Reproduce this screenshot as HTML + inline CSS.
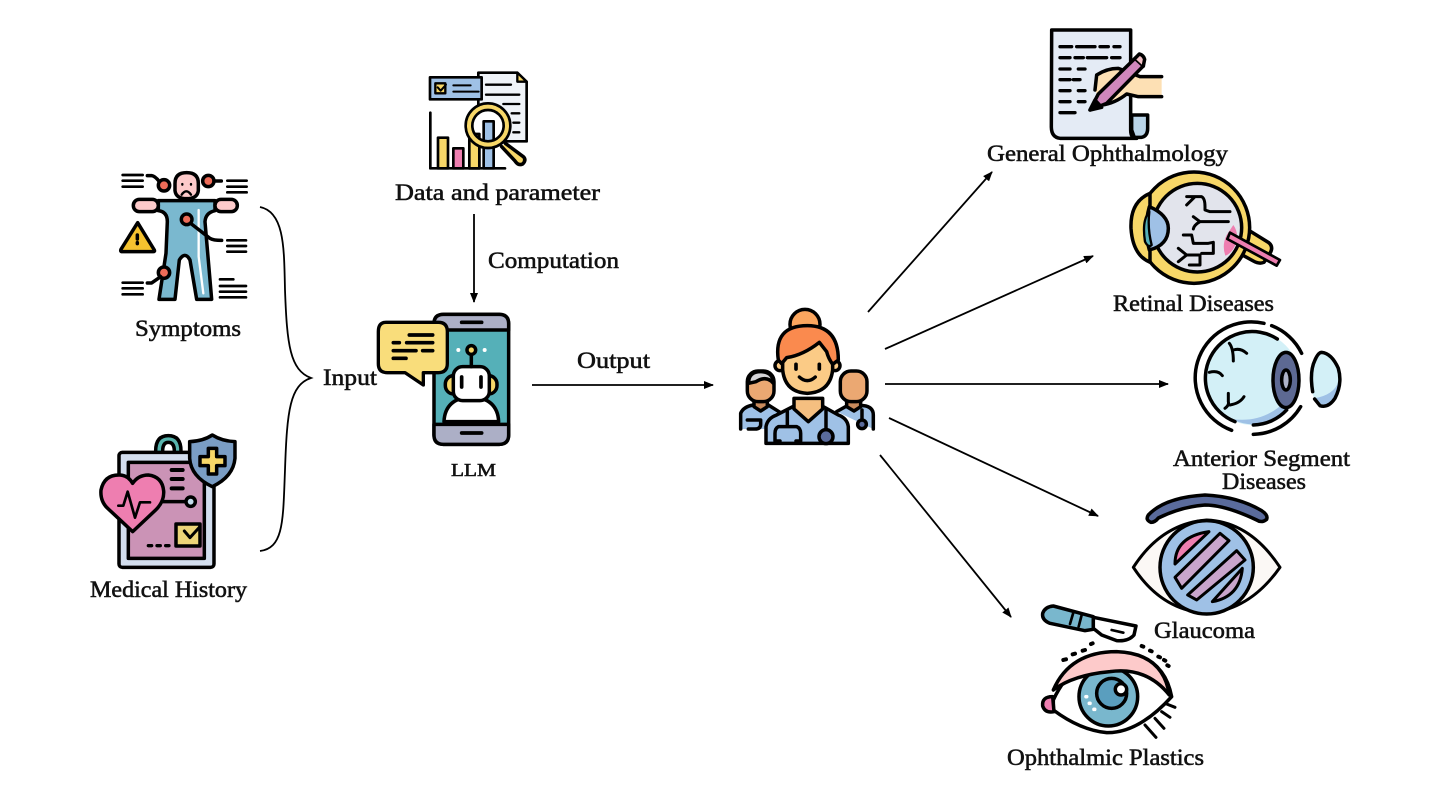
<!DOCTYPE html>
<html><head><meta charset="utf-8"><title>LLM diagram</title>
<style>
html,body{margin:0;padding:0;background:#fff}
svg{display:block}
text{font-family:"Liberation Serif",serif;font-size:23px;fill:#111;stroke:#111;stroke-width:.55}
.i *{stroke-linecap:round;stroke-linejoin:round}
.i{stroke:#000;stroke-width:10.5;fill:none}
.a{stroke:#000;stroke-width:1.8;fill:none}
</style></head><body>
<svg width="1440" height="810" viewBox="0 0 1440 810" xmlns="http://www.w3.org/2000/svg">
<defs><marker id="h" markerWidth="10" markerHeight="8" refX="9" refY="4" orient="auto" markerUnits="userSpaceOnUse"><path d="M0,0 L10,4 L0,8 Z" fill="#000"/></marker></defs>
<rect width="1440" height="810" fill="#fff"/>

<!-- connectors -->
<path class="a" d="M260,207 C285,212 284,250 285,290 C287,345 290,370 311,378 C290,385 287,410 285,470 C283,520 284,548 260,551"/>
<g class="a">
<line x1="474" y1="214" x2="474" y2="302" marker-end="url(#h)"/>
<line x1="532" y1="385" x2="713" y2="385" marker-end="url(#h)"/>
<line x1="868" y1="312" x2="992" y2="172" marker-end="url(#h)"/>
<line x1="885" y1="349" x2="1093" y2="256" marker-end="url(#h)"/>
<line x1="885" y1="384" x2="1168" y2="384" marker-end="url(#h)"/>
<line x1="889" y1="418" x2="1098" y2="516" marker-end="url(#h)"/>
<line x1="880" y1="455" x2="1011" y2="617" marker-end="url(#h)"/>
</g>

<!-- Symptoms -->
<g class="i" transform="translate(90,160) scale(.3333)">
<path d="M98,45H158M98,62H158M98,80H158M412,62H470M412,80H470M412,97H470M412,241H468M412,258H468M412,275H468M98,368H158M98,385H158M98,403H158M390,358H430M390,378H468M390,395H468M390,412H468" stroke-width="8"/>
<path d="M205,122H375V152Q347,158 345,185L365,418H320L300,300Q285,272 268,300L255,418H207L228,280L232,185Q232,155 205,152Z" fill="#7ab8cf"/>
<path d="M326,150V290L340,400" stroke="#fff" stroke-width="7" fill="none"/>
<rect x="130" y="118" width="75" height="37" rx="18" fill="#fdcaca"/>
<rect x="375" y="118" width="67" height="37" rx="18" fill="#fdcaca"/>
<path d="M255,70Q255,38 290,38Q325,38 325,70V92Q322,116 290,116Q258,116 255,92Z" fill="#fdcaca"/>
<path d="M275,104Q289,84 303,104M277,72V74M303,72V74" stroke-width="7"/>
<circle cx="222" cy="76" r="17" fill="#ee6c58"/><path d="M172,47H185Q195,48 208,65"/>
<circle cx="355" cy="63" r="17" fill="#ee6c58"/><path d="M372,63H394"/>
<circle cx="290" cy="178" r="16" fill="#ee6c58"/><path d="M302,190L360,235Q370,241 395,241"/>
<circle cx="222" cy="338" r="17" fill="#ee6c58"/><path d="M172,369H185L212,350"/>
<path d="M143,188L193,270Q195,275 190,275H97Q90,275 93,268Z" fill="#f5c22f"/>
<path d="M142,225V237M142,248V251"/>
</g>

<!-- Medical History -->
<g class="i" transform="translate(85,425) scale(.3333)">
<path d="M212,78Q212,32 250,32Q288,32 288,78" fill="#57b4ad"/>
<path d="M233,78Q233,52 250,52Q268,52 268,78" fill="#fff"/>
<rect x="102" y="82" width="285" height="345" rx="10" fill="#d3deee"/>
<rect x="130" y="112" width="228" height="288" fill="#cb93b6"/>
<path d="M260,135H293M260,162H293M260,190H293" stroke-width="12" stroke-linecap="butt"/>
<path d="M190,230H300"/>
<circle cx="317" cy="230" r="14" fill="#c4dceb"/>
<path d="M143,320L70,252Q45,230 48,195Q58,148 105,150Q130,152 143,175Q160,150 190,150Q232,155 236,198Q238,230 212,255Z" fill="#ee7eb0"/>
<path d="M100,242H115L128,200L150,278L165,232H195" stroke-width="8"/>
<rect x="273" y="297" width="72" height="66" fill="#ecd478"/>
<path d="M298,318L315,338L345,305" stroke-width="9"/>
<path d="M190,362H200M216,362H226M242,362H252" stroke-width="10" stroke-linecap="butt"/>
<path d="M382,30Q410,48 450,50V100Q445,155 382,185Q318,155 314,100V50Q355,48 382,30Z" fill="#7a9dc4"/>
<path d="M370,70H395V95H420V122H395V147H370V122H345V95H370Z" fill="#f7d768"/>
</g>

<!-- Data and parameter -->
<g class="i" transform="translate(400,60) scale(.3333)">
<path d="M235,38H352L380,65V244H235Z" fill="#eff3f8" stroke-width="8"/>
<path d="M352,38V65H380Z" fill="#f7d768" stroke-width="7"/>
<path d="M258,74H333M258,104H358M310,132H358M335,160H358M340,188H358M340,217H358" stroke-width="7"/>
<rect x="90" y="52" width="155" height="66" fill="#9fc1e6" stroke-width="8"/>
<rect x="106" y="70" width="30" height="30" fill="#f7d768" stroke-width="7"/>
<path d="M113,82L122,92L138,74M160,76H212M160,95H236" stroke-width="6"/>
<path d="M91,158V325H315" stroke-width="8"/>
<rect x="114" y="233" width="30" height="92" fill="#f7d768" stroke-width="8"/>
<rect x="160" y="265" width="30" height="60" fill="#ee7eb0" stroke-width="8"/>
<rect x="208" y="222" width="30" height="103" fill="#f7d768" stroke-width="8"/>
<path d="M316,250L370,290Q380,300 368,312Q355,318 345,303L305,260" fill="#f7d768"/>
<circle cx="264" cy="197" r="48" fill="#fff" stroke="none"/>
<rect x="208" y="222" width="30" height="103" fill="#f7d768" stroke-width="8"/>
<rect x="251" y="184" width="30" height="141" fill="#9fc1e6" stroke-width="8"/>
<circle cx="264" cy="197" r="57" stroke="#f7d768" stroke-width="20"/>
<circle cx="264" cy="197" r="67" stroke-width="8"/>
<circle cx="264" cy="197" r="47" stroke-width="8"/>
</g>

<!-- LLM phone -->
<g class="i" transform="translate(370,305) scale(.3333)">
<rect x="192" y="28" width="224" height="390" rx="28" fill="#55b0b8"/>
<path d="M192,75V56Q192,28 220,28H388Q416,28 416,56V75Z" fill="#acafc6"/>
<path d="M192,358V390Q192,418 220,418H388Q416,418 416,390V358Z" fill="#acafc6"/>
<path d="M275,52H335M275,384H335" stroke-width="11"/>
<path d="M222,350Q225,280 304,275Q383,280 386,350Z" fill="#fff"/>
<rect x="226" y="212" width="155" height="55" rx="25" fill="#f7d768"/>
<rect x="250" y="185" width="108" height="102" rx="28" fill="#fff"/>
<path d="M275,216V246M333,216V246" stroke-width="11"/>
<path d="M304,150V185"/>
<circle cx="304" cy="135" r="13" fill="#f7d768"/>
<path d="M265,135H265M344,135H344" stroke="#fff" stroke-width="12"/>
<path d="M48,52H205Q232,52 232,80V176Q232,203 205,203H160V240L105,203H52Q25,203 25,176V80Q25,52 48,52Z" fill="#f9dd7b" stroke-width="10"/>
<path d="M118,90H188M70,113H88M110,113H188M70,137H138M158,137H188M70,160H108" stroke-width="11" stroke-linecap="butt"/>
</g>

<!-- Doctors -->
<g class="i" transform="translate(730,305) scale(.3333)">
<path d="M32,372V325Q40,305 70,300H115L150,322V372" fill="#9fc1e6"/>
<path d="M320,320L352,302H400Q430,305 430,330V372" fill="#9fc1e6"/>
<path d="M72,280V305L92,318L112,305V280Z" fill="#c88a5c"/>
<path d="M350,280V305L372,318L392,305V280Z" fill="#c88a5c"/>
<rect x="52" y="198" width="80" height="92" rx="32" fill="#eba872"/>
<path d="M56,235Q55,200 92,200Q130,200 130,235Q110,210 78,230Z" fill="#d4d4d8"/>
<rect x="331" y="198" width="80" height="92" rx="32" fill="#eba872"/>
<path d="M52,345H92V358Q92,372 75,372H55" fill="none"/>
<path d="M396,315V345"/><circle cx="396" cy="358" r="13" fill="#5a6b9c"/>
<path d="M108,415V365Q112,340 140,330L188,305H280L325,330Q352,340 355,365V415Z" fill="#9fc1e6"/>
<path d="M192,280V312L235,350L278,312V280Z" fill="#f5bf80"/>
<circle cx="225" cy="58" r="45" fill="#fba65f"/>
<circle cx="150" cy="182" r="15" fill="#fbcb86"/><circle cx="315" cy="182" r="15" fill="#fbcb86"/>
<path d="M158,130V195Q165,262 232,265Q300,262 308,195V130Q235,90 158,130Z" fill="#fbcb86"/>
<path d="M145,165Q130,62 232,62Q325,62 325,165L308,178Q295,160 290,140L268,112Q220,150 170,158L155,176Z" fill="#fa8a4e"/>
<path d="M198,178V192M268,178V192" stroke-width="11"/>
<path d="M208,216Q232,238 256,216" stroke-width="10"/>
<path d="M172,320V365H145Q135,370 135,385V408H150M172,365H200Q212,370 212,385V408H198"/>
<path d="M288,310V375"/><circle cx="288" cy="395" r="21" fill="#5a6b9c"/>
</g>

<!-- General Ophthalmology -->
<g class="i" transform="translate(1040,20) scale(.3333)">
<path d="M283,352H305Q323,348 323,325V285H275V330Z" fill="#b9d4e8"/>
<path d="M35,30H272V330Q272,355 290,355H60Q34,352 34,320Z" fill="#e4ebf5"/>
<path d="M60,80H95M110,80H165M180,80H205M222,80H240M60,113H90M105,113H130M142,113H200M215,113H240M60,147H90M115,147H135M60,179H90M100,179H120M60,212H90M115,212H135M60,245H90M115,245H135M60,278H105" stroke-width="10" stroke-linecap="butt"/>
<path d="M365,170H300L235,145Q200,145 170,165L165,210L185,255Q225,250 260,222L295,230H365Z" fill="#fde0b4" stroke="none"/>
<path d="M365,170H300L235,145Q200,145 170,165L165,210M185,255Q225,250 260,222L295,230H365"/>
<path d="M150,270L175,222L285,115L310,138L200,250Z" fill="#d087bc"/>
<path d="M285,115L298,102Q310,105 314,118L310,138" fill="#f3c1c6"/>
<path d="M150,270L185,262L165,240Z" fill="#000"/>
</g>

<!-- Retinal -->
<g class="i" transform="translate(1120,165) scale(.3333)">
<path d="M380,192L445,232Q462,245 450,265L432,292Q418,298 400,288L345,258Z" fill="#f7d768"/>
<circle cx="222" cy="188" r="167" fill="#f7d768"/>
<circle cx="232" cy="188" r="133" fill="#e2e4ec"/>
<path d="M340,180Q355,200 350,230Q338,265 316,272Q305,240 320,210Z" fill="#ee7eb0" stroke="none"/>
<path d="M200,95H245Q255,100 255,125V135L270,140H330M200,120L225,95M220,155L240,170H325M240,170Q222,180 220,192M190,210H215L220,235H265L280,232V265H245M175,250L200,270L175,290M200,270H240V300H208" stroke-width="9" fill="none"/>
<path d="M90,85Q30,110 33,190Q38,270 90,292Z" fill="#f7d768"/>
<path d="M88,125Q145,150 145,190Q145,240 88,255Q70,190 88,125Z" fill="#9fc1e6"/>
<path d="M88,140Q65,165 75,230Q85,250 95,240Q82,190 88,140Z" fill="#55b0b8" stroke-width="7"/>
<path d="M330,203L480,285L470,302L322,222Z" fill="#ee7eb0" stroke-width="8"/>
</g>

<!-- Anterior -->
<g class="i" transform="translate(1190,315) scale(.3333)">
<circle cx="188" cy="190" r="140" fill="#d3f0f7" stroke="none"/>
<path d="M125,312Q215,325 280,265L300,275A140,140 0 0 1 125,312Z" fill="#9fc1e6" stroke="none"/>
<path d="M222,25A168,168 0 0 0 125,346M190,358A168,168 0 0 0 332,275M245,32A168,168 0 0 1 335,115"/>
<path d="M262,72A140,140 0 1 0 135,320M190,330A140,140 0 0 0 290,285"/>
<ellipse cx="288" cy="195" rx="39" ry="83" fill="#5d6993"/>
<ellipse cx="288" cy="195" rx="13" ry="30" fill="#aeb3c8"/>
<path d="M118,85Q130,100 130,138M130,105Q152,98 170,115M58,172Q85,165 97,182M115,235V260Q118,270 105,280M120,270Q150,265 162,245" stroke-width="9"/>
<path d="M395,112Q362,140 362,195Q362,250 392,272Q430,270 450,195Q445,130 395,112Z" fill="#d3f0f7" stroke="none"/>
<path d="M372,250Q390,280 425,260Q445,230 447,195Q435,240 372,250Z" fill="#9fc1e6" stroke="none"/>
<path d="M368,230Q358,170 375,135Q385,112 395,112Q425,115 445,160Q458,205 435,250Q415,280 390,272L374,252"/>
</g>

<!-- Glaucoma -->
<g class="i" transform="translate(1125,490) scale(.3333)">
<path d="M240,15Q120,22 70,75Q60,90 78,97Q90,97 100,84Q170,50 240,45Q300,45 395,90Q410,100 425,88Q430,75 410,62Q340,20 240,15Z" fill="#5a6b9c"/>
<path d="M25,232Q110,100 245,90Q375,95 465,232Q375,360 245,370Q110,362 25,232Z" fill="#fbf8f5" stroke-width="9"/>
<circle cx="245" cy="232" r="140" fill="#9fc1e6"/>
<path d="M150,222Q150,140 252,125Z" fill="#ee7eb0" stroke-width="9"/>
<path d="M150,262L285,130L312,152L170,295Z" fill="#c9a5cc" stroke-width="9"/>
<path d="M188,315L335,182L360,210L215,330Z" fill="#c9a5cc" stroke-width="9"/>
<path d="M352,235Q345,320 262,335Z" fill="#c9a5cc" stroke-width="9"/>
</g>

<!-- Ophthalmic plastics -->
<g class="i" transform="translate(1030,600) scale(.3333)">
<path d="M70,18L190,50V88L165,92L60,70Q35,60 38,40Q45,20 70,18Z" fill="#79b7cd"/>
<path d="M130,38L120,72M155,45L146,80" stroke-width="8"/>
<path d="M190,52L318,78L312,105Q295,125 260,122L215,105L190,85Z" fill="#fff"/>
<path d="M245,90L280,98" stroke-width="8"/>
<path d="M100,180L108,178M128,163L135,161M158,152L165,150M183,132L188,130M335,138L340,140M360,152L365,154M385,170L390,172M402,180L406,182M412,196L416,198" stroke-width="12"/>
<path d="M70,300Q130,170 260,158Q400,160 425,290Q325,400 230,398Q150,390 70,330Z" fill="#fff"/>
<circle cx="235" cy="290" r="88" fill="#79b7cd"/>
<path d="M70,270Q120,155 260,155Q400,160 418,285Q350,200 240,215Q130,225 70,270Z" fill="#fdcaca"/>
<circle cx="245" cy="280" r="45" fill="#5a9ebe"/>
<circle cx="273" cy="268" r="17" fill="#fff"/>
<path d="M168,290H170M178,310H180M192,328H194" stroke="#fff" stroke-width="11"/>
<path d="M68,290Q35,290 38,318Q45,340 72,335Z" fill="#ee7eb0"/>
<path d="M410,312L435,322M395,335L420,352M375,355L402,385M345,375L378,412" stroke-width="9"/>
</g>

<!-- Labels -->
<text x="987" y="161" textLength="241" lengthAdjust="spacingAndGlyphs">General Ophthalmology</text>
<text x="1113" y="311" textLength="161" lengthAdjust="spacingAndGlyphs">Retinal Diseases</text>
<text x="1173" y="466" textLength="177" lengthAdjust="spacingAndGlyphs">Anterior Segment</text>
<text x="1222" y="489" textLength="84" lengthAdjust="spacingAndGlyphs">Diseases</text>
<text x="1154" y="638" textLength="101" lengthAdjust="spacingAndGlyphs">Glaucoma</text>
<text x="1007" y="765" textLength="197" lengthAdjust="spacingAndGlyphs">Ophthalmic Plastics</text>
<text x="135" y="336" textLength="106" lengthAdjust="spacingAndGlyphs">Symptoms</text>
<text x="90" y="597" textLength="157" lengthAdjust="spacingAndGlyphs">Medical History</text>
<text x="395" y="200" textLength="205" lengthAdjust="spacingAndGlyphs">Data and parameter</text>
<text x="488" y="268" textLength="131" lengthAdjust="spacingAndGlyphs">Computation</text>
<text x="323" y="385" textLength="54" lengthAdjust="spacingAndGlyphs">Input</text>
<text x="577" y="368" textLength="73" lengthAdjust="spacingAndGlyphs">Output</text>
<text x="451" y="476" textLength="45" lengthAdjust="spacingAndGlyphs" style="font-size:18px">LLM</text>
</svg>
</body></html>
